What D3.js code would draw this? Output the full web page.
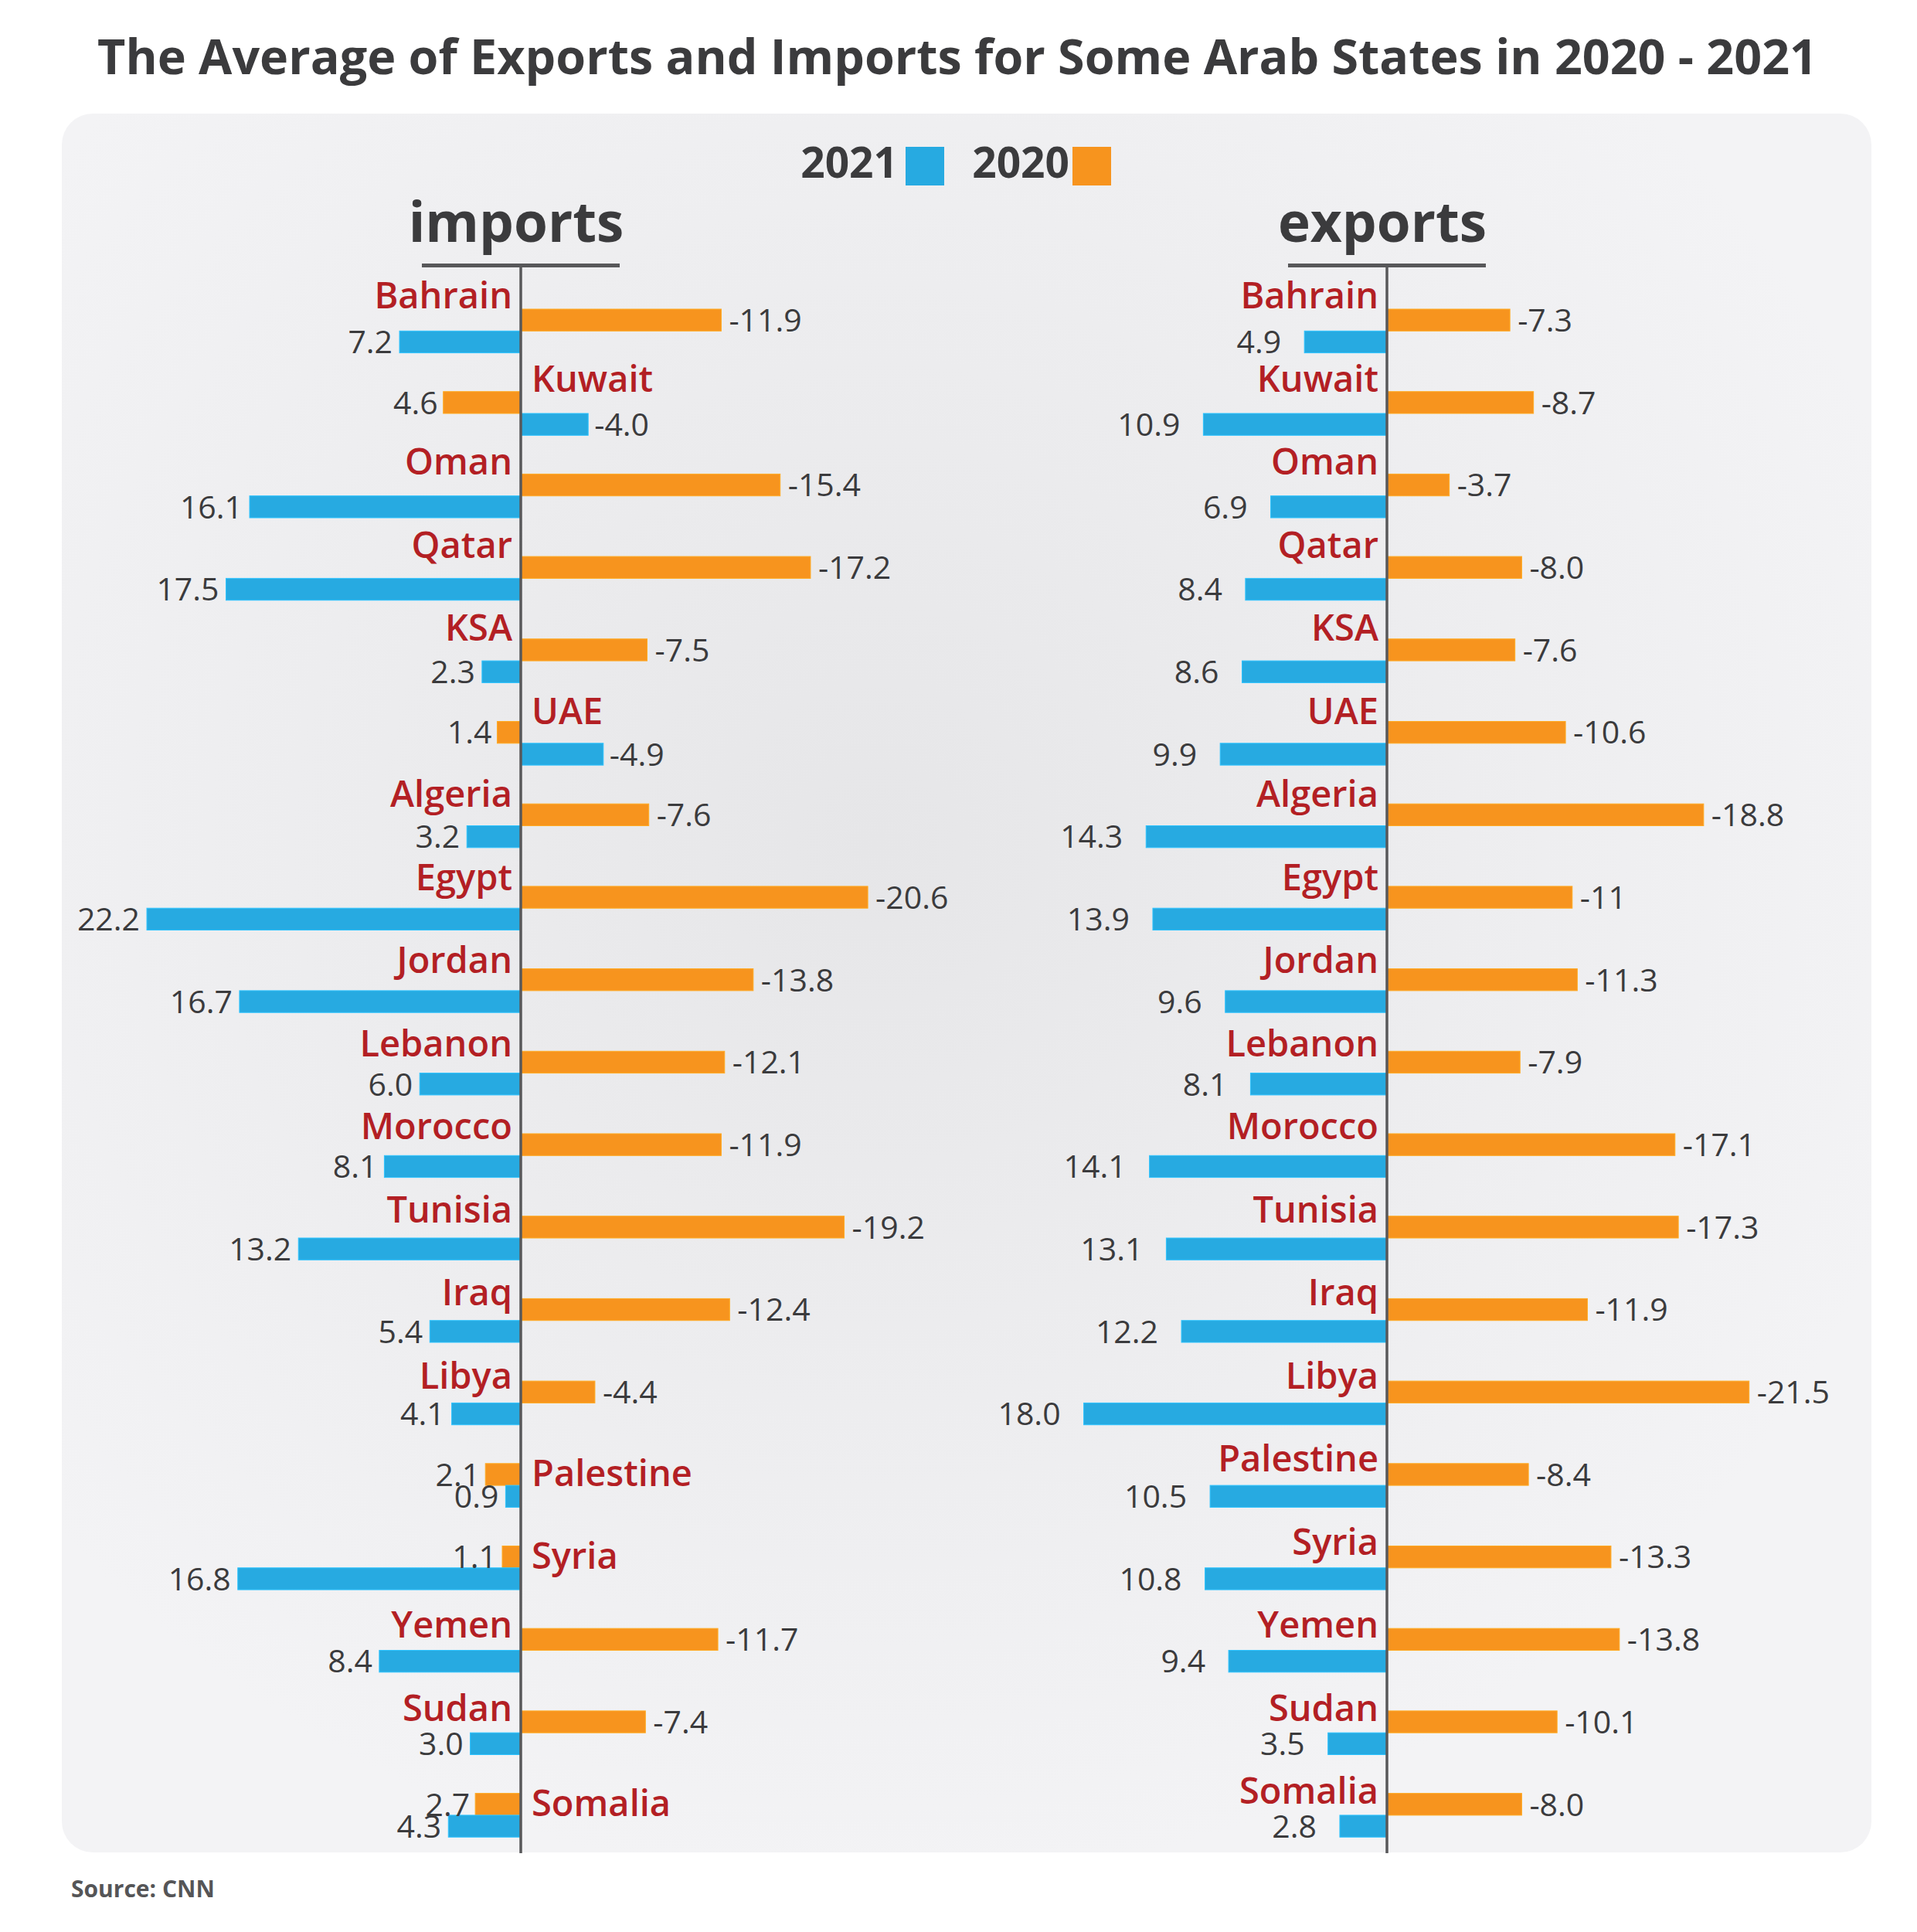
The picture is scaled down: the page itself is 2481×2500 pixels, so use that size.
<!DOCTYPE html>
<html>
<head>
<meta charset="utf-8">
<script src="https://cdn.jsdelivr.net/npm/d3@7"></script>
<style>
  html, body { margin: 0; padding: 0; background: #ffffff; }
  svg { display: block; }
</style>
</head>
<body>
<svg id="chart" width="2481" height="2500"></svg>
<script>
// ---------------- DATA ----------------
const countries = ["Bahrain","Kuwait","Oman","Qatar","KSA","UAE","Algeria","Egypt","Jordan","Lebanon","Morocco","Tunisia","Iraq","Libya","Palestine","Syria","Yemen","Sudan","Somalia"];
const imports2021 = [7.2,-4.0,16.1,17.5,2.3,-4.9,3.2,22.2,16.7,6.0,8.1,13.2,5.4,4.1,0.9,16.8,8.4,3.0,4.3];
const imports2020 = [-11.9,4.6,-15.4,-17.2,-7.5,1.4,-7.6,-20.6,-13.8,-12.1,-11.9,-19.2,-12.4,-4.4,2.1,1.1,-11.7,-7.4,2.7];
const exports2021 = [4.9,10.9,6.9,8.4,8.6,9.9,14.3,13.9,9.6,8.1,14.1,13.1,12.2,18.0,10.5,10.8,9.4,3.5,2.8];
const exports2020 = [-7.3,-8.7,-3.7,-8.0,-7.6,-10.6,-18.8,-11,-11.3,-7.9,-17.1,-17.3,-11.9,-21.5,-8.4,-13.3,-13.8,-10.1,-8.0];
const integerLabelled = ["exports2020:Egypt"];   // shown without decimal in source
const legendYears = ["2021","2020"];
const panelTitles = ["imports","exports"];
const titleText = "The Average of Exports and Imports for Some Arab States in 2020 - 2021";
const sourceText = "Source: CNN";

// ---------------- STYLE ----------------
const C2021 = "#27aae1", C2020 = "#f7941e";
const RED = "#b31f24", DARK = "#3b3b3d", AXIS = "#58585a";
const FONT = "'Open Sans', 'Noto Sans', sans-serif";

const svg = d3.select("#chart");
const defs = svg.append("defs");
const grad = defs.append("radialGradient").attr("id","bg")
  .attr("cx","0.45").attr("cy","0.42").attr("r","0.6");
grad.append("stop").attr("offset","0%").attr("stop-color","#e6e6e8");
grad.append("stop").attr("offset","100%").attr("stop-color","#f3f3f5");

// panel
svg.append("rect").attr("x",80).attr("y",147).attr("width",2342).attr("height",2250)
  .attr("rx",40).attr("ry",40).attr("fill","url(#bg)");

// title
svg.append("text").attr("x",1239).attr("y",96).attr("text-anchor","middle")
  .attr("font-family",FONT).attr("font-weight",700).attr("font-size",62.8)
  .attr("fill",DARK).text(titleText);

// legend
const legendColors = [C2021, C2020];
const legendX = [1162, 1384];
legendYears.forEach((y,i) => {
  svg.append("text").attr("x",legendX[i]).attr("y",230).attr("text-anchor","end")
    .attr("font-family",FONT).attr("font-weight",700).attr("font-size",55)
    .attr("fill",DARK).text(y);
  svg.append("rect").attr("x",[1172,1388][i]).attr("y",190).attr("width",50).attr("height",50)
    .attr("fill",legendColors[i]);
});

// source
svg.append("text").attr("x",92).attr("y",2455)
  .attr("font-family",FONT).attr("font-weight",700).attr("font-size",30)
  .attr("fill","#555557").text(sourceText);

// scales
const K = 21.8;
const barY = d3.scalePoint().domain(countries).range([400, 400 + 18*106.7]);
const labelY = d3.scalePoint().domain(countries).range([399, 2334]);
const BAR_H = 28.3;

function fmt(key, country, v) {
  const s = integerLabelled.includes(key + ":" + country) ? d3.format("d")(v) : d3.format(".1f")(v);
  return s.replace("\u2212", "-");
}

function panel(axisX, title, s2021, s2020, key2021, key2020, blueGap) {
  const x = d3.scaleLinear().domain([0, 1]).range([axisX, axisX - K]);
  const g = svg.append("g");

  // heading
  g.append("text").attr("x",axisX - 6).attr("y",313).attr("text-anchor","middle")
    .attr("font-family",FONT).attr("font-weight",700).attr("font-size",71)
    .attr("fill",DARK).text(title);
  g.append("rect").attr("x",axisX-128).attr("y",341).attr("width",256).attr("height",5)
    .attr("fill",AXIS);

  const rows = countries.map((c,i) => ({c, b: s2021[i], o: s2020[i]}));

  const bar = (v, y, color) => {
    const x0 = Math.min(x(0), x(v)), x1 = Math.max(x(0), x(v));
    g.append("rect").attr("x",x0).attr("y",y).attr("width",x1-x0).attr("height",BAR_H)
      .attr("fill",color).attr("stroke", d3.color(color).brighter(0.4)).attr("stroke-width",1);
  };
  const valLabel = (v, y, text, gap) => {
    const left = v > 0;
    g.append("text")
      .attr("x", left ? x(v) - gap : x(v) + gap)
      .attr("y", y + BAR_H/2).attr("dy","0.36em")
      .attr("text-anchor", left ? "end" : "start")
      .attr("font-family",FONT).attr("font-weight",400).attr("font-size",41)
      .attr("fill",DARK).text(text);
  };

  rows.forEach(r => {
    const yo = barY(r.c), yb = yo + BAR_H;
    bar(r.o, yo, C2020);
    bar(r.b, yb, C2021);
    valLabel(r.o, yo, fmt(key2020, r.c, r.o), r.o > 0 ? 7 : 10);
    valLabel(r.b, yb, fmt(key2021, r.c, r.b), r.b > 0 ? blueGap : 8);

    // country label
    const onLeft = r.o < 0;
    let ty;
    if (onLeft) ty = labelY(r.c);
    else if (r.b > 0) ty = yo + BAR_H + 1;
    else ty = labelY(r.c);
    g.append("text")
      .attr("x", onLeft ? axisX - 11 : axisX + 14)
      .attr("y", ty)
      .attr("text-anchor", onLeft ? "end" : "start")
      .attr("font-family",FONT).attr("font-weight",600).attr("font-size",47)
      .attr("fill",RED).text(r.c);
  });

  // axis line
  g.append("line").attr("x1",axisX).attr("x2",axisX).attr("y1",343).attr("y2",2398)
    .attr("stroke",AXIS).attr("stroke-width",3.5);
}

panel(674, panelTitles[0], imports2021, imports2020, "imports2021", "imports2020", 9);
panel(1795, panelTitles[1], exports2021, exports2020, "exports2021", "exports2020", 30);
</script>
</body>
</html>
